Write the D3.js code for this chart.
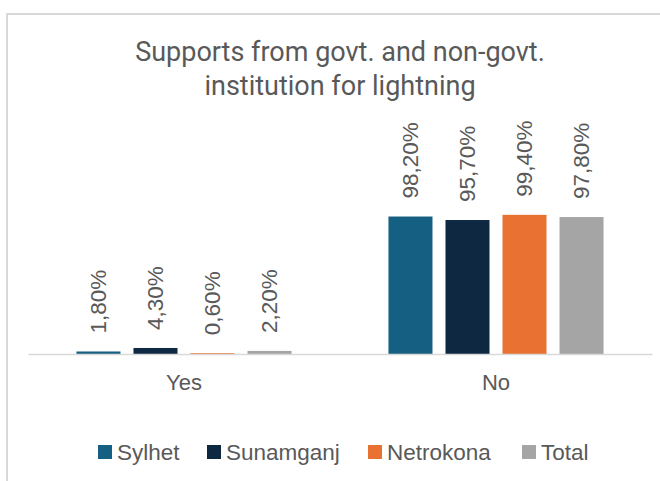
<!DOCTYPE html>
<html>
<head>
<meta charset="utf-8">
<script src="https://cdn.jsdelivr.net/npm/d3@7"></script>
<style>
  body { margin: 0; background: #fff; }
  svg { display: block; }
</style>
</head>
<body>
<script>
// chart data
var categories = ["Yes", "No"];
var seriesNames = ["Sylhet", "Sunamganj", "Netrokona", "Total"];
var sylhet = [1.8, 98.2];
var sunamganj = [4.3, 95.7];
var netrokona = [0.6, 99.4];
var total = [2.2, 97.8];
var labelText = [["1,80%", "98,20%"], ["4,30%", "95,70%"], ["0,60%", "99,40%"], ["2,20%", "97,80%"]];
var titleLines = ["Supports from govt. and non-govt.", "institution for lightning"];

var colors = ["#156082", "#0E2841", "#E97132", "#A5A5A5"];
var seriesValues = [sylhet, sunamganj, netrokona, total];

var width = 660, height = 481;
var plot = {left: 28, right: 652, top: 214, bottom: 354};

var svg = d3.select("body").append("svg")
  .attr("width", width)
  .attr("height", height);

// outer chart frame (runs off the right and bottom edges)
svg.append("rect")
  .attr("x", 7).attr("y", 14)
  .attr("width", 700).attr("height", 500)
  .attr("fill", "#fff")
  .attr("stroke", "#D9D9D9")
  .attr("stroke-width", 2);

// title
svg.append("g").selectAll("text")
  .data(titleLines)
  .enter().append("text")
  .attr("x", (plot.left + plot.right) / 2)
  .attr("y", function(d, i) { return 61 + i * 34; })
  .attr("text-anchor", "middle")
  .style("font-family", "Roboto, sans-serif")
  .style("font-size", "27px")
  .style("fill", "#595959")
  .text(function(d) { return d; });

var x0 = d3.scaleBand()
  .domain(categories)
  .range([plot.left, plot.right]);

var x1 = d3.scaleBand()
  .domain(seriesNames)
  .range([0, x0.bandwidth()])
  .paddingInner(0.228)
  .paddingOuter(0.85);

var y = d3.scaleLinear()
  .domain([0, 100])
  .range([plot.bottom, plot.top]);

// flat table built from the arrays above
var rows = [];
seriesNames.forEach(function(s, si) {
  categories.forEach(function(c, ci) {
    rows.push({cat: c, series: s, si: si, value: seriesValues[si][ci], label: labelText[si][ci]});
  });
});

var bars = svg.append("g");
bars.selectAll("rect")
  .data(rows)
  .enter().append("rect")
  .attr("x", function(d) { return x0(d.cat) + x1(d.series); })
  .attr("y", function(d) { return y(d.value); })
  .attr("width", x1.bandwidth())
  .attr("height", function(d) { return y(0) - y(d.value); })
  .attr("fill", function(d) { return colors[d.si]; });

// data labels, rotated
bars.selectAll("text")
  .data(rows)
  .enter().append("text")
  .attr("transform", function(d) {
    var cx = x0(d.cat) + x1(d.series) + x1.bandwidth() / 2;
    return "translate(" + cx + "," + (y(d.value) - 18) + ") rotate(-90)";
  })
  .attr("dy", "0.35em")
  .style("font-family", "'Liberation Sans', Arial, sans-serif")
  .style("font-size", "22.5px")
  .style("fill", "#595959")
  .text(function(d) { return d.label; });

// category axis
var xAxis = d3.axisBottom(x0).tickSize(0).tickPadding(20);
var axisG = svg.append("g")
  .attr("transform", "translate(0," + plot.bottom + ")")
  .call(xAxis);
axisG.select(".domain").attr("stroke", "#D9D9D9").attr("stroke-width", 1.5);
axisG.selectAll("text")
  .style("font-family", "'Liberation Sans', Arial, sans-serif")
  .style("font-size", "22px")
  .style("fill", "#595959");

// legend
var legendX = [98, 207, 368, 522];
var legend = svg.append("g").selectAll("g")
  .data(seriesNames)
  .enter().append("g")
  .attr("transform", function(d, i) { return "translate(" + legendX[i] + ",452)"; });
legend.append("rect")
  .attr("x", 0).attr("y", -7)
  .attr("width", 14).attr("height", 14)
  .attr("fill", function(d, i) { return colors[i]; });
legend.append("text")
  .attr("x", 19)
  .attr("dy", "0.35em")
  .style("font-family", "'Liberation Sans', Arial, sans-serif")
  .style("font-size", "22.5px")
  .style("fill", "#595959")
  .text(function(d) { return d; });
</script>
</body>
</html>
